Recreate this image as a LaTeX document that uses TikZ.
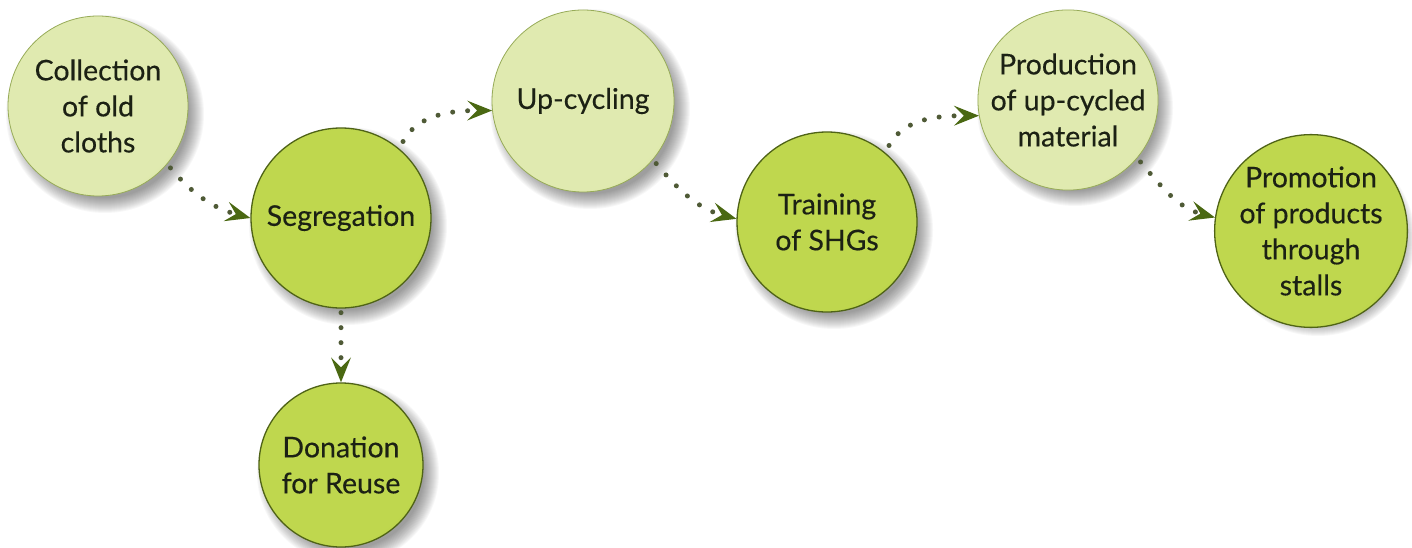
\documentclass[tikz,border=0pt]{standalone}
\usepackage{fontspec}
\setmainfont{Lato}
\newfontfamily\bubblefont{Lato}[FakeBold=0.35]
\usetikzlibrary{arrows.meta,backgrounds,calc}
\definecolor{lgA}{HTML}{E0EAB0}
\definecolor{lgB}{HTML}{D0DD90}
\definecolor{lgC}{HTML}{9CB058}
\definecolor{dkA}{HTML}{BFD74E}
\definecolor{dkB}{HTML}{A8C338}
\definecolor{dkC}{HTML}{74901C}
\definecolor{lgLine}{HTML}{97AB58}
\definecolor{dkLine}{HTML}{4F6316}
\definecolor{dotcol}{HTML}{4F5A36}
\definecolor{tipcol}{HTML}{4A6812}
\definecolor{txt}{HTML}{1C2114}
\definecolor{shd}{HTML}{303030}
\pgfdeclareradialshading{lightball}{\pgfpoint{-5bp}{5bp}}{color(0bp)=(lgA); color(27bp)=(lgA); color(44bp)=(lgB); color(56bp)=(lgC)}
\pgfdeclareradialshading{darkball}{\pgfpoint{-5bp}{5bp}}{color(0bp)=(dkA); color(27bp)=(dkA); color(44bp)=(dkB); color(56bp)=(dkC)}
\newcommand\bubshadow[2]{%
  \foreach \k in {0,...,15}{%
    \fill[shd, opacity=0.035] ($(#1.center)+(7,-8)$) circle ({#2-6+\k});
  }}
\tikzset{
  bubble/.style={circle, inner sep=0pt, align=center, text=txt,
    font=\bubblefont\fontsize{28.5}{36}\selectfont},
  lightbubble/.style={bubble, shading=lightball, draw=lgLine, line width=0.8pt},
  darkbubble/.style={bubble, shading=darkball, draw=dkLine, line width=1.3pt},
  flow/.style={draw=dotcol, line width=5pt, line cap=round, dash pattern=on 0pt off 15pt,
    -{Stealth[length=25pt, width=20pt, inset=10pt, line width=0pt, color=tipcol]}}
}
\begin{document}
\begin{tikzpicture}[x=1pt,y=1pt]
\useasboundingbox (0,0) rectangle (1412,-548);

\node[lightbubble, minimum size=180pt] (c1) at (98,-106) {Collection\\of old\\cloths};
\node[darkbubble, minimum size=180pt] (c2) at (341,-218) {Segregation};
\node[lightbubble, minimum size=182pt] (c3) at (583,-101) {Up-cycling};
\node[darkbubble, minimum size=180pt] (c4) at (827,-222) {Training\\of SHGs};
\node[lightbubble, minimum size=178pt] (c5) at (1068,-100) {Production\\of up-cycled\\material};
\node[darkbubble, minimum size=176pt] (c6) at (1311,-231) {Promotion\\of products\\through\\stalls};
\node[darkbubble, minimum size=164pt] (c7) at (341,-465) {Donation\\for Reuse};

\begin{scope}[on background layer]
  \fill[white] (0,0) rectangle (1412,-548);
  \bubshadow{c1}{90}
  \bubshadow{c2}{90}
  \bubshadow{c3}{91}
  \bubshadow{c4}{90}
  \bubshadow{c5}{89}
  \bubshadow{c6}{88}
  \bubshadow{c7}{82}
\end{scope}

\draw[flow, shorten <=5pt] (c1.-40) to[out=-50, in=165] (c2.west);
\draw[flow, shorten <=8pt] (c2.50) to[out=62, in=180] (c3.186);
\draw[flow, shorten <=5pt] (c3.-40) to[out=-50, in=165] (c4.178);
\draw[flow, shorten <=8pt] (c4.50) to[out=62, in=180] (c5.190);
\draw[flow, shorten <=5pt] (c5.-40) to[out=-50, in=165] (c6.172);
\draw[flow, shorten <=4pt] (c2.south) -- (c7.north);
\end{tikzpicture}
\end{document}
